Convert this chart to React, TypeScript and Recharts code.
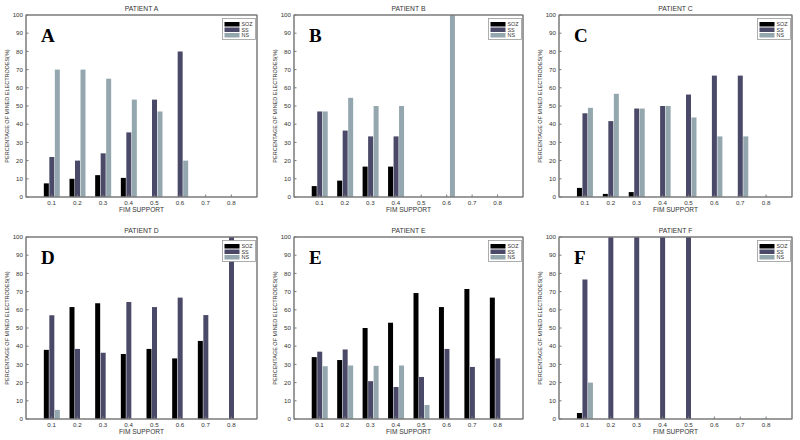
import { BarChart, Bar, XAxis, YAxis, Legend } from 'recharts'

// FIM support levels on the x axis
const fimSupport = ['0.1', '0.2', '0.3', '0.4', '0.5', '0.6', '0.7', '0.8']
const yTicks = [0, 10, 20, 30, 40, 50, 60, 70, 80, 90, 100]

// percentage of mined electrodes, per patient and class
const sozA = [7.5, 10, 12, 10.5, 0, 0, 0, 0]
const ssA = [22, 20, 24, 35.5, 53.5, 80, 0, 0]
const nsA = [70, 70, 65, 53.5, 47, 20, 0, 0]

const sozB = [6, 9, 16.7, 16.7, 0, 0, 0, 0]
const ssB = [47, 36.5, 33.3, 33.3, 0, 0, 0, 0]
const nsB = [47, 54.5, 50, 50, 0, 100, 0, 0]

const sozC = [5, 1.7, 2.7, 0, 0, 0, 0, 0]
const ssC = [46, 41.7, 48.6, 50, 56.3, 66.7, 66.7, 0]
const nsC = [49, 56.7, 48.6, 50, 43.7, 33.3, 33.3, 0]

const sozD = [38, 61.5, 63.6, 35.7, 38.5, 33.3, 42.9, 0]
const ssD = [57, 38.5, 36.4, 64.3, 61.5, 66.7, 57.1, 100]
const nsD = [5, 0, 0, 0, 0, 0, 0, 0]

const sozE = [34, 32.4, 50, 52.9, 69.2, 61.5, 71.4, 66.7]
const ssE = [37, 38.2, 20.8, 17.6, 23.1, 38.5, 28.6, 33.3]
const nsE = [29, 29.4, 29.2, 29.4, 7.7, 0, 0, 0]

const sozF = [3.3, 0, 0, 0, 0, 0, 0, 0]
const ssF = [76.7, 100, 100, 100, 100, 0, 0, 0]
const nsF = [20, 0, 0, 0, 0, 0, 0, 0]

const COLORS = { soz: '#000000', ss: '#4b4968', ns: '#94a7ae' }
const FONT = '"Liberation Sans", Arial, sans-serif'
const AXIS = '#7a7a7a'

// column geometry (page px)
const COL_LEFT = [0, 266, 532]
const PLOT_LEFT = [26, 294, 559]
const PLOT_RIGHT = [257, 523, 792]
const H = 218
const YW = 16
const TOP = 15
const XH = 12
const BOTTOM = 9

const panels = [
  { id: 'A', soz: sozA, ss: ssA, ns: nsA },
  { id: 'B', soz: sozB, ss: ssB, ns: nsB },
  { id: 'C', soz: sozC, ss: ssC, ns: nsC },
  { id: 'D', soz: sozD, ss: ssD, ns: nsD },
  { id: 'E', soz: sozE, ss: ssE, ns: nsE },
  { id: 'F', soz: sozF, ss: ssF, ns: nsF },
]

const LegendBox = () => (
  <svg width={34} height={22} style={{ display: 'block' }}>
    <rect x={0.5} y={0.5} width={33} height={21} fill="#fff" stroke="#9a9a9a" strokeWidth={0.8} />
    {[
      { label: 'SOZ', color: COLORS.soz },
      { label: 'SS', color: COLORS.ss },
      { label: 'NS', color: COLORS.ns },
    ].map((s, i) => (
      <g key={s.label}>
        <rect x={2.5} y={4 + i * 5.5} width={15} height={4.5} fill={s.color} />
        <text x={19.5} y={8.3 + i * 5.5} fontSize={5.4} fill="#333" fontFamily={FONT}>{s.label}</text>
      </g>
    ))}
  </svg>
)

function Panel({ p, idx }: { p: typeof panels[number]; idx: number }) {
  const col = idx % 3
  const row = Math.floor(idx / 3)
  const L = COL_LEFT[col]
  const T = row * 222
  const PL = PLOT_LEFT[col]
  const PR = PLOT_RIGHT[col]
  const W = col === 2 ? 800 - L : 268
  const pad = (PR - PL) / 18
  const rows = fimSupport.map((x, i) => ({ x, soz: p.soz[i], ss: p.ss[i], ns: p.ns[i] }))
  const cx = (PL + PR) / 2 - L
  const plotH = H - TOP - XH - BOTTOM

  return (
    <div style={{ position: 'absolute', left: L, top: T, width: W, height: H }}>
      <BarChart
        width={W}
        height={H}
        data={rows}
        margin={{ top: TOP - 1, right: L + W - PR - 1, bottom: BOTTOM, left: PL - L - YW }}
        barSize={5}
        barGap={0.5}
      >
        <XAxis
          dataKey="x"
          interval={0}
          height={XH}
          padding={{ left: pad, right: pad }}
          tickSize={-2.5}
          tickMargin={6}
          axisLine={{ stroke: AXIS }}
          tickLine={{ stroke: AXIS }}
          tick={{ fontSize: 6.2, fill: '#333', fontFamily: FONT }}
        />
        <XAxis
          xAxisId="t"
          dataKey="x"
          orientation="top"
          interval={0}
          height={1}
          padding={{ left: pad, right: pad }}
          tickSize={-2.5}
          tick={false}
          axisLine={{ stroke: AXIS }}
          tickLine={{ stroke: AXIS }}
        />
        <YAxis
          type="number"
          domain={[0, 100]}
          ticks={yTicks}
          width={YW}
          tickSize={-2.5}
          tickMargin={5.5}
          axisLine={{ stroke: AXIS }}
          tickLine={{ stroke: AXIS }}
          tick={{ fontSize: 6.2, fill: '#333', fontFamily: FONT }}
        />
        <YAxis
          yAxisId="r"
          orientation="right"
          type="number"
          domain={[0, 100]}
          ticks={yTicks}
          width={1}
          tickSize={-2.5}
          tick={false}
          axisLine={{ stroke: AXIS }}
          tickLine={{ stroke: AXIS }}
        />
        <Legend
          layout="horizontal"
          verticalAlign="middle"
          align="center"
          content={() => <LegendBox />}
          wrapperStyle={{ position: 'absolute', top: 18, left: PR - L - 35, width: 34, height: 22 }}
        />
        <Bar dataKey="soz" name="SOZ" fill={COLORS.soz} isAnimationActive={false} />
        <Bar dataKey="ss" name="SS" fill={COLORS.ss} isAnimationActive={false} />
        <Bar dataKey="ns" name="NS" fill={COLORS.ns} isAnimationActive={false} />
      </BarChart>
      <svg
        width={W}
        height={H}
        style={{ position: 'absolute', left: 0, top: 0, pointerEvents: 'none' }}
      >
        {/* box around the plot area */}
        <rect x={PL - L} y={TOP} width={PR - PL} height={plotH} fill="none" stroke={AXIS} strokeWidth={1} />
        <text x={cx} y={11} textAnchor="middle" fontSize={6.8} fill="#333" fontFamily={FONT}>
          PATIENT {p.id}
        </text>
        <text x={cx} y={212} textAnchor="middle" fontSize={6.6} fill="#333" fontFamily={FONT}>
          FIM SUPPORT
        </text>
        <text
          x={PL - L - 17}
          y={106}
          transform={`rotate(-90, ${PL - L - 17}, 106)`}
          textAnchor="middle"
          fontSize={5.5}
          fill="#333"
          fontFamily={FONT}
        >
          PERCENTAGE OF MINED ELECTRODES(%)
        </text>
        <text
          x={PL - L + 15}
          y={42}
          fontSize={19}
          fontWeight="bold"
          fill="#000"
          fontFamily='"Liberation Serif", "Times New Roman", serif'
        >
          {p.id}
        </text>
      </svg>
    </div>
  )
}

export default function App() {
  return (
    <div style={{ position: 'absolute', left: 0, top: 0, width: 800, height: 440, background: '#fff', overflow: 'hidden' }}>
      {panels.map((p, i) => (
        <Panel key={p.id} p={p} idx={i} />
      ))}
    </div>
  )
}
